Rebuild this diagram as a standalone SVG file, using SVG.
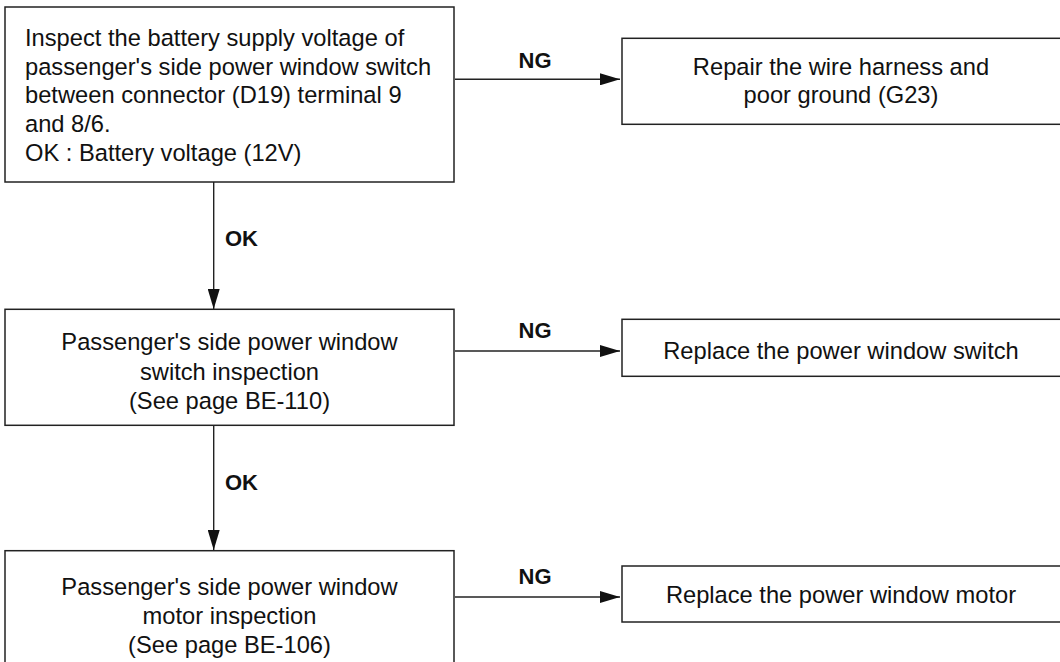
<svg xmlns="http://www.w3.org/2000/svg" width="1060" height="662" viewBox="0 0 1060 662">
<style>
.box{fill:#fff;stroke:#222;stroke-width:1.5}
.t{font-family:"Liberation Sans",Arial,Helvetica,sans-serif;font-size:23.7px;fill:#111}
.c{text-anchor:middle}
.lbl{font-family:"Liberation Sans",Arial,Helvetica,sans-serif;font-size:22px;font-weight:bold;fill:#111}
.ln{stroke:#222;stroke-width:1.4;fill:none}
</style>
<defs>
<marker id="ah" markerWidth="20" markerHeight="12" refX="20" refY="6" orient="auto" markerUnits="userSpaceOnUse">
<path d="M0,0 L20,6 L0,12 Z" fill="#111"/>
</marker>
</defs>
<rect width="1060" height="662" fill="#fff"/>
<g id="connectors">
<line class="ln" x1="455" y1="79.3" x2="620" y2="79.3" marker-end="url(#ah)"/>
<text class="lbl c" x="535" y="67.7">NG</text>
<line class="ln" x1="213.7" y1="182" x2="213.7" y2="309" marker-end="url(#ah)"/>
<text class="lbl" x="225" y="246">OK</text>
<line class="ln" x1="455" y1="351" x2="620" y2="351" marker-end="url(#ah)"/>
<text class="lbl c" x="535" y="338">NG</text>
<line class="ln" x1="213.7" y1="425" x2="213.7" y2="550" marker-end="url(#ah)"/>
<text class="lbl" x="225" y="490">OK</text>
<line class="ln" x1="455" y1="597" x2="620" y2="597" marker-end="url(#ah)"/>
<text class="lbl c" x="535" y="584">NG</text>
</g>
<g id="n1">
<rect class="box" x="5" y="7" width="449" height="175"/>
<text class="t" x="25" y="45.7">Inspect the battery supply voltage of</text>
<text class="t" x="25" y="74.5">passenger's side power window switch</text>
<text class="t" x="25" y="103.3">between connector (D19) terminal 9</text>
<text class="t" x="25" y="132">and 8/6.</text>
<text class="t" x="25" y="161">OK : Battery voltage (12V)</text>
</g>
<g id="n2">
<rect class="box" x="622" y="38.3" width="440" height="86"/>
<text class="t c" x="841" y="75">Repair the wire harness and</text>
<text class="t c" x="841" y="102.7">poor ground (G23)</text>
</g>
<g id="n3">
<rect class="box" x="5" y="309.3" width="449" height="116"/>
<text class="t c" x="229.5" y="350">Passenger's side power window</text>
<text class="t c" x="229.5" y="379.5">switch inspection</text>
<text class="t c" x="229.5" y="409">(See page BE-110)</text>
</g>
<g id="n4">
<rect class="box" x="622" y="319.3" width="440" height="57"/>
<text class="t c" x="841" y="359.3">Replace the power window switch</text>
</g>
<g id="n5">
<rect class="box" x="5" y="550.7" width="449" height="130"/>
<text class="t c" x="229.5" y="595">Passenger's side power window</text>
<text class="t c" x="229.5" y="624">motor inspection</text>
<text class="t c" x="229.5" y="652.7">(See page BE-106)</text>
</g>
<g id="n6">
<rect class="box" x="622" y="566" width="440" height="56"/>
<text class="t c" x="841" y="603">Replace the power window motor</text>
</g>
</svg>
